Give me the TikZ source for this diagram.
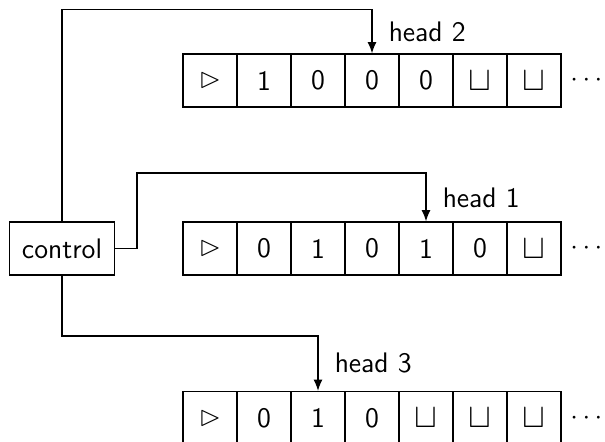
\documentclass[tikz,border=0pt]{standalone}
\usepackage{amssymb}
\usetikzlibrary{arrows.meta}
\renewcommand{\familydefault}{\sfdefault}
\newcommand{\startsym}{$\rhd$}
\newcommand{\blanksym}{\scalebox{1.25}{$\sqcup$}}
\begin{document}
\begin{tikzpicture}[x=0.4pt,y=-0.4pt,
  font=\fontsize{11.3}{13}\selectfont\sffamily,
  cell/.style={draw, line width=0.5pt, minimum width=21.6pt, minimum height=21.2pt, inner sep=0pt},
  ctrlbox/.style={draw, line width=0.5pt, minimum width=41.9pt, minimum height=21.2pt, inner sep=0pt},
  lbl/.style={anchor=west, inner sep=3.3pt},
  dotsnode/.style={anchor=west, inner sep=3.3pt},
  conn/.style={line width=0.5pt, -{Latex[length=4.5pt,width=3.6pt]}}]
\clip (0,0) rectangle (605,441);
\useasboundingbox (0,0) rectangle (605,441);
% tape 2
\foreach \t [count=\i] in {\startsym,1,0,0,0,\blanksym,\blanksym}
  \node[cell] (b\i) at ({156+54*\i},80.5) {\t};
\node[dotsnode] (bd) at (b7.east) {$\cdots$};
% tape 1
\foreach \t [count=\i] in {\startsym,0,1,0,1,0,\blanksym}
  \node[cell] (a\i) at ({156+54*\i},248.5) {\t};
\node[dotsnode] (ad) at (a7.east) {$\cdots$};
% tape 3
\foreach \t [count=\i] in {\startsym,0,1,0,\blanksym,\blanksym,\blanksym}
  \node[cell] (c\i) at ({156+54*\i},418) {\t};
\node[dotsnode] (cd) at (c7.east) {$\cdots$};
% control
\node[ctrlbox] (ctrl) at (62,248.5) {control};
% levels
\coordinate (y2) at (0,9.5);
\coordinate (y1) at (0,173);
\coordinate (y3) at (0,336);
\coordinate (k1) at (137,248.5);
% connectors
\draw[conn] (ctrl.north) -- (ctrl.north |- y2) -| (b4.north);
\draw[conn] (ctrl.east) -- (k1) -- (k1 |- y1) -| (a5.north);
\draw[conn] (ctrl.south) -- (ctrl.south |- y3) -| (c3.north);
% labels
\node[lbl] (l2) at (380,32) {head 2};
\node[lbl] (l1) at (434,197.5) {head 1};
\node[lbl] (l3) at (326,363) {head 3};
\end{tikzpicture}
\end{document}
